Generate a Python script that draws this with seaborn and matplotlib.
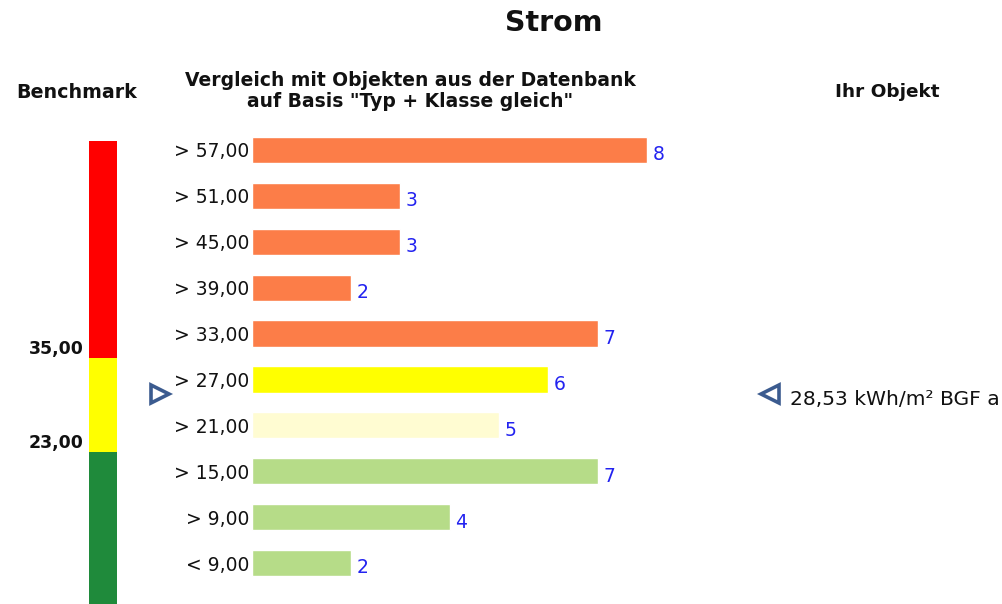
import matplotlib
matplotlib.use("Agg")
import matplotlib.pyplot as plt
import matplotlib.transforms as mtransforms
import seaborn as sns
import pandas as pd

# ---- data ----
CLASSES = ["> 57,00", "> 51,00", "> 45,00", "> 39,00", "> 33,00",
           "> 27,00", "> 21,00", "> 15,00", "> 9,00", "< 9,00"]
CLASS_LOWER = [57, 51, 45, 39, 33, 27, 21, 15, 9, 3]
COUNTS = [8, 3, 3, 2, 7, 6, 5, 7, 4, 2]
BAR_COLORS = ["#FC7D48", "#FC7D48", "#FC7D48", "#FC7D48", "#FC7D48",
              "#FFFF00", "#FFFCD2", "#B6DC88", "#B6DC88", "#B6DC88"]
BENCH_LIMITS = [23.0, 35.0]            # green | yellow | red
BENCH_LABELS = ["23,00", "35,00"]
BENCH_COLORS = ["#1F8A3B", "#FFFF00", "#FF0000"]
BENCH_RANGE = (3.6, 62.75)             # visible part of benchmark scale
OBJECT_VALUE = 28.53
OBJECT_LABEL = "28,53 kWh/m² BGF a"
TITLE = "Strom"

sns.set_theme(style="white")
plt.rcParams["font.family"] = ["DejaVu Sans"]

W, H = 1003, 604
fig = plt.figure(figsize=(W / 100, H / 100), dpi=100)
fig.patch.set_facecolor("white")

# ---- bar chart ----
ax = fig.add_axes([252 / W, (H - 586) / H, 494 / W, 459 / H])
df = pd.DataFrame({"Klasse": CLASSES, "Anzahl": COUNTS})
sns.barplot(data=df, x="Anzahl", y="Klasse", hue="Klasse", palette=BAR_COLORS,
            legend=False, width=0.57, orient="h", saturation=1, ax=ax)
ax.set_xlim(0, 10)
ax.set_ylim(len(CLASSES) - 0.5, -0.5)
for s in ax.spines.values():
    s.set_visible(False)
ax.set_xlabel("")
ax.set_ylabel("")
ax.set_xticks([])
ax.tick_params(axis="y", left=False, length=0, pad=2, labelsize=13.5,
               labelcolor="#111111")
ax.set_facecolor("none")
for i, v in enumerate(COUNTS):
    ax.annotate(str(v), xy=(v, i), xytext=(4, -3.5), textcoords="offset points",
                ha="left", va="center", color="#2323F0", fontsize=13.5)

# position of the object inside its class row
idx = next(i for i, lo in enumerate(CLASS_LOWER) if OBJECT_VALUE >= lo)
upper = CLASS_LOWER[idx - 1] if idx > 0 else CLASS_LOWER[0] + 6
obj_pos = idx - 0.5 + (upper - OBJECT_VALUE) / (upper - CLASS_LOWER[idx])

# ---- benchmark column ----
axb = fig.add_axes([89 / W, 0, 28 / W, (H - 140.7) / H])
axb.set_ylim(*BENCH_RANGE)
axb.set_xlim(0, 1)
edges = [BENCH_RANGE[0] - 10] + BENCH_LIMITS + [BENCH_RANGE[1] + 10]
for lo, hi, c in zip(edges[:-1], edges[1:], BENCH_COLORS):
    axb.axhspan(lo, hi, color=c, lw=0)
axb.axis("off")

tb = mtransforms.blended_transform_factory(fig.transFigure, axb.transData)
for lim, lab in zip(BENCH_LIMITS, BENCH_LABELS):
    axb.text(84 / W, lim, lab, transform=tb, ha="right", va="bottom",
             fontsize=12.5, fontweight="bold", color="#111111", clip_on=False)

# object markers
tr = mtransforms.blended_transform_factory(fig.transFigure, ax.transData)
mk = mtransforms.offset_copy(tr, fig=fig, x=0, y=-3, units="dots")
ax.plot([160 / W], [obj_pos], transform=mk, marker=">", markersize=13,
        mfc="none", mec="#3B5B8F", mew=2.6, clip_on=False)
ax.plot([770 / W], [obj_pos], transform=mk, marker="<", markersize=13,
        mfc="none", mec="#3B5B8F", mew=2.6, clip_on=False)
off = mtransforms.offset_copy(tr, fig=fig, x=0, y=-9, units="dots")
ax.text(790 / W, obj_pos, OBJECT_LABEL, transform=off, ha="left",
        va="center", fontsize=14.6, color="#111111", clip_on=False)

# ---- headers ----
fig.text(554 / W, 1 - 23 / H, TITLE, ha="center", va="center",
         fontsize=20.5, fontweight="bold", color="#111111")
fig.text(77 / W, 1 - 92 / H, "Benchmark", ha="center", va="center",
         fontsize=13.7, fontweight="bold", color="#111111")
fig.text(410 / W, 1 - 91 / H,
         "Vergleich mit Objekten aus der Datenbank\nauf Basis \"Typ + Klasse gleich\"",
         ha="center", va="center", fontsize=13.5, fontweight="bold",
         color="#111111", linespacing=1.15)
fig.text(887 / W, 1 - 92 / H, "Ihr Objekt", ha="center", va="center",
         fontsize=13.3, fontweight="bold", color="#111111")

fig.savefig("out.png", dpi=100, facecolor="white")
